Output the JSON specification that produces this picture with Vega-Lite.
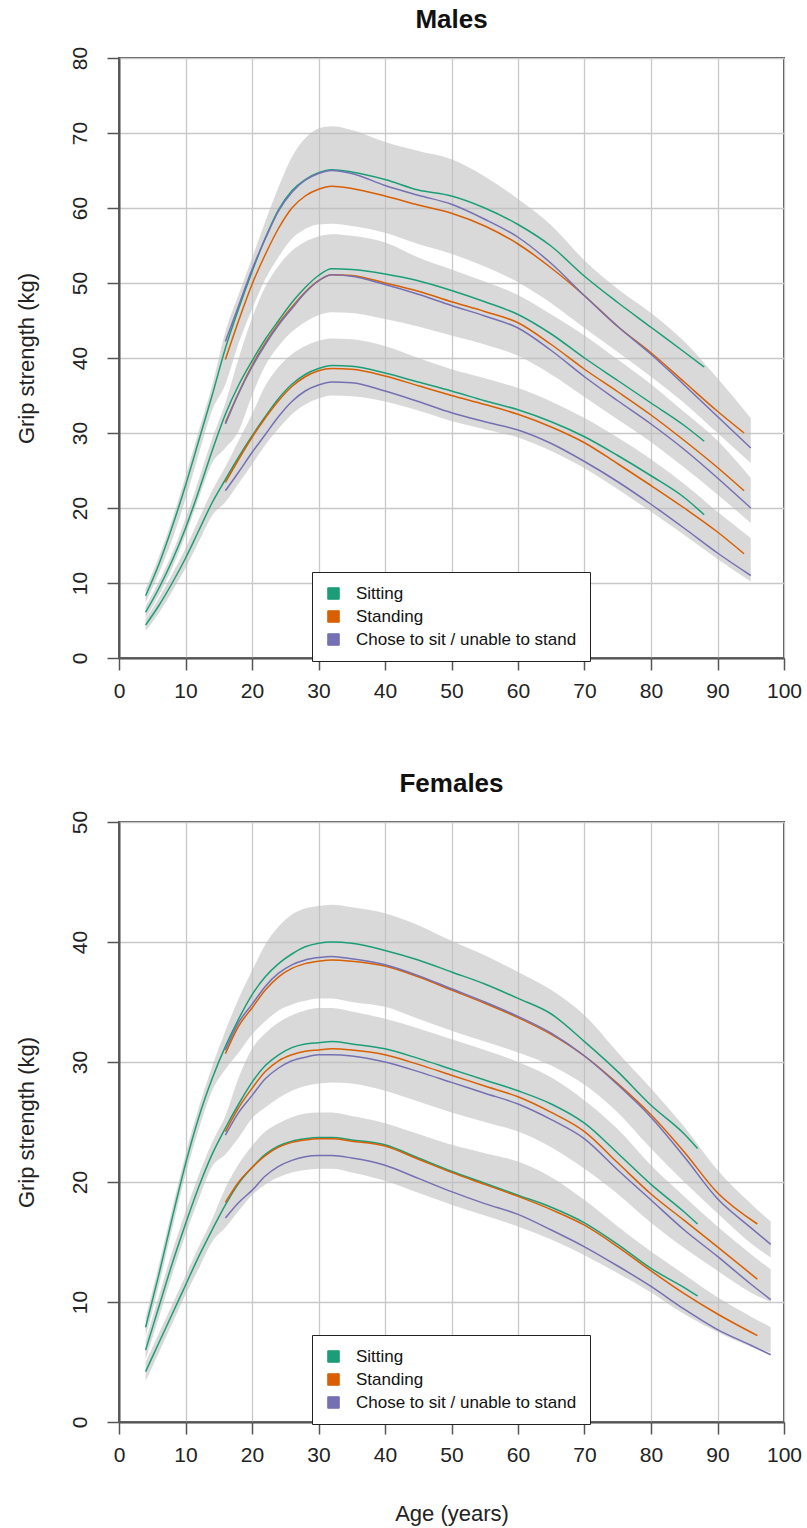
{
"$schema": "https://vega.github.io/schema/vega-lite/v6.json",
"padding": {"left": 14, "top": 6, "right": 5, "bottom": 2},
"spacing": 68,
"config": {
"font": "Liberation Sans",
"view": {"stroke": "#555555", "strokeWidth": 2},
"axis": {"domainColor": "#555555", "domainWidth": 2, "tickColor": "#555555", "tickWidth": 1.5, "tickSize": 12, "gridColor": "#c8c8c8", "gridWidth": 1.3, "labelFont": "Liberation Sans", "labelFontSize": 21, "labelColor": "#222222", "titleFont": "Liberation Sans", "titleFontSize": 22, "titleFontWeight": "normal", "titleColor": "#222222", "labelFlush": false, "labelOverlap": false},
"title": {"font": "Liberation Sans", "fontSize": 26, "fontWeight": "bold", "color": "#111111", "anchor": "middle", "baseline": "alphabetic", "offset": 13, "frame": "group"}
},
"resolve": {"scale": {"x": "independent", "y": "independent", "color": "independent"}, "legend": {"color": "independent"}},
"datasets": {
"maleBands": [
{"age":4,"lo":7.4,"hi":9.2,"band":"upper"},{"age":6,"lo":11.3,"hi":13.5,"band":"upper"},{"age":8,"lo":15.8,"hi":18.5,"band":"upper"},{"age":10,"lo":21.2,"hi":24.2,"band":"upper"},{"age":12,"lo":27.2,"hi":30.3,"band":"upper"},{"age":14,"lo":33.0,"hi":36.3,"band":"upper"},{"age":16,"lo":36.5,"hi":43.5,"band":"upper"},{"age":18,"lo":42.0,"hi":48.5,"band":"upper"},{"age":20,"lo":46.5,"hi":53.3,"band":"upper"},{"age":22,"lo":50.5,"hi":58.2,"band":"upper"},{"age":24,"lo":53.5,"hi":62.8,"band":"upper"},{"age":26,"lo":55.9,"hi":66.8,"band":"upper"},{"age":28,"lo":57.2,"hi":69.3,"band":"upper"},{"age":30,"lo":57.8,"hi":70.6,"band":"upper"},{"age":32,"lo":57.9,"hi":70.9,"band":"upper"},{"age":35,"lo":57.6,"hi":70.4,"band":"upper"},{"age":40,"lo":56.7,"hi":68.8,"band":"upper"},{"age":45,"lo":55.2,"hi":67.6,"band":"upper"},{"age":50,"lo":53.9,"hi":66.5,"band":"upper"},{"age":55,"lo":52.2,"hi":64.2,"band":"upper"},{"age":60,"lo":50.1,"hi":61.2,"band":"upper"},{"age":65,"lo":47.3,"hi":57.7,"band":"upper"},{"age":70,"lo":44.0,"hi":53.0,"band":"upper"},{"age":75,"lo":40.8,"hi":49.2,"band":"upper"},{"age":80,"lo":37.5,"hi":46.0,"band":"upper"},{"age":85,"lo":34.0,"hi":42.2,"band":"upper"},{"age":90,"lo":30.0,"hi":37.3,"band":"upper"},{"age":95,"lo":26.0,"hi":32.0,"band":"upper"},
{"age":4,"lo":5.3,"hi":6.9,"band":"middle"},{"age":6,"lo":8.4,"hi":10.2,"band":"middle"},{"age":8,"lo":12.0,"hi":14.0,"band":"middle"},{"age":10,"lo":16.4,"hi":18.6,"band":"middle"},{"age":12,"lo":21.3,"hi":23.8,"band":"middle"},{"age":14,"lo":26.0,"hi":29.2,"band":"middle"},{"age":16,"lo":28.0,"hi":34.0,"band":"middle"},{"age":18,"lo":30.3,"hi":40.0,"band":"middle"},{"age":20,"lo":35.0,"hi":45.3,"band":"middle"},{"age":22,"lo":39.0,"hi":49.5,"band":"middle"},{"age":24,"lo":41.6,"hi":52.3,"band":"middle"},{"age":26,"lo":43.5,"hi":54.3,"band":"middle"},{"age":28,"lo":44.8,"hi":55.5,"band":"middle"},{"age":30,"lo":45.7,"hi":56.2,"band":"middle"},{"age":32,"lo":46.1,"hi":56.5,"band":"middle"},{"age":35,"lo":46.0,"hi":56.3,"band":"middle"},{"age":40,"lo":45.2,"hi":55.4,"band":"middle"},{"age":45,"lo":44.2,"hi":53.4,"band":"middle"},{"age":50,"lo":43.0,"hi":51.8,"band":"middle"},{"age":55,"lo":41.8,"hi":50.2,"band":"middle"},{"age":60,"lo":40.3,"hi":48.4,"band":"middle"},{"age":65,"lo":37.8,"hi":45.8,"band":"middle"},{"age":70,"lo":34.8,"hi":43.0,"band":"middle"},{"age":75,"lo":31.8,"hi":39.8,"band":"middle"},{"age":80,"lo":28.8,"hi":36.5,"band":"middle"},{"age":85,"lo":25.4,"hi":32.8,"band":"middle"},{"age":90,"lo":21.8,"hi":29.0,"band":"middle"},{"age":95,"lo":18.0,"hi":24.0,"band":"middle"},
{"age":4,"lo":3.6,"hi":5.2,"band":"lower"},{"age":6,"lo":6.0,"hi":8.0,"band":"lower"},{"age":8,"lo":8.9,"hi":11.2,"band":"lower"},{"age":10,"lo":12.0,"hi":14.6,"band":"lower"},{"age":12,"lo":15.5,"hi":18.5,"band":"lower"},{"age":14,"lo":19.0,"hi":22.3,"band":"lower"},{"age":16,"lo":20.8,"hi":25.5,"band":"lower"},{"age":18,"lo":23.3,"hi":29.0,"band":"lower"},{"age":20,"lo":25.8,"hi":32.5,"band":"lower"},{"age":22,"lo":28.4,"hi":36.3,"band":"lower"},{"age":24,"lo":30.6,"hi":38.8,"band":"lower"},{"age":26,"lo":32.5,"hi":40.5,"band":"lower"},{"age":28,"lo":33.8,"hi":41.6,"band":"lower"},{"age":30,"lo":34.6,"hi":42.3,"band":"lower"},{"age":32,"lo":35.0,"hi":42.6,"band":"lower"},{"age":35,"lo":34.9,"hi":42.5,"band":"lower"},{"age":40,"lo":34.2,"hi":41.6,"band":"lower"},{"age":45,"lo":33.0,"hi":40.0,"band":"lower"},{"age":50,"lo":31.6,"hi":38.5,"band":"lower"},{"age":55,"lo":30.5,"hi":37.3,"band":"lower"},{"age":60,"lo":29.4,"hi":36.0,"band":"lower"},{"age":65,"lo":27.6,"hi":34.2,"band":"lower"},{"age":70,"lo":25.3,"hi":32.0,"band":"lower"},{"age":75,"lo":22.5,"hi":29.4,"band":"lower"},{"age":80,"lo":19.5,"hi":26.5,"band":"lower"},{"age":85,"lo":16.4,"hi":23.2,"band":"lower"},{"age":90,"lo":13.2,"hi":19.5,"band":"lower"},{"age":95,"lo":10.2,"hi":16.0,"band":"lower"}
],
"maleLines": [
{"age":4,"kg":8.3,"pos":"Sitting","grp":"upper"},{"age":6,"kg":12.5,"pos":"Sitting","grp":"upper"},{"age":8,"kg":17.5,"pos":"Sitting","grp":"upper"},{"age":10,"kg":23.0,"pos":"Sitting","grp":"upper"},{"age":12,"kg":29.0,"pos":"Sitting","grp":"upper"},{"age":14,"kg":35.0,"pos":"Sitting","grp":"upper"},{"age":16,"kg":41.3,"pos":"Sitting","grp":"upper"},{"age":18,"kg":46.6,"pos":"Sitting","grp":"upper"},{"age":20,"kg":51.5,"pos":"Sitting","grp":"upper"},{"age":22,"kg":56.0,"pos":"Sitting","grp":"upper"},{"age":24,"kg":59.8,"pos":"Sitting","grp":"upper"},{"age":26,"kg":62.3,"pos":"Sitting","grp":"upper"},{"age":28,"kg":63.8,"pos":"Sitting","grp":"upper"},{"age":30,"kg":64.7,"pos":"Sitting","grp":"upper"},{"age":32,"kg":65.1,"pos":"Sitting","grp":"upper"},{"age":35,"kg":64.8,"pos":"Sitting","grp":"upper"},{"age":40,"kg":63.8,"pos":"Sitting","grp":"upper"},{"age":45,"kg":62.4,"pos":"Sitting","grp":"upper"},{"age":50,"kg":61.6,"pos":"Sitting","grp":"upper"},{"age":55,"kg":60.0,"pos":"Sitting","grp":"upper"},{"age":60,"kg":57.8,"pos":"Sitting","grp":"upper"},{"age":65,"kg":54.9,"pos":"Sitting","grp":"upper"},{"age":70,"kg":50.9,"pos":"Sitting","grp":"upper"},{"age":75,"kg":47.4,"pos":"Sitting","grp":"upper"},{"age":80,"kg":44.1,"pos":"Sitting","grp":"upper"},{"age":85,"kg":40.8,"pos":"Sitting","grp":"upper"},{"age":88,"kg":38.8,"pos":"Sitting","grp":"upper"},
{"age":4,"kg":6.1,"pos":"Sitting","grp":"middle"},{"age":6,"kg":9.3,"pos":"Sitting","grp":"middle"},{"age":8,"kg":13.0,"pos":"Sitting","grp":"middle"},{"age":10,"kg":17.3,"pos":"Sitting","grp":"middle"},{"age":12,"kg":22.3,"pos":"Sitting","grp":"middle"},{"age":14,"kg":27.6,"pos":"Sitting","grp":"middle"},{"age":16,"kg":32.5,"pos":"Sitting","grp":"middle"},{"age":18,"kg":36.4,"pos":"Sitting","grp":"middle"},{"age":20,"kg":39.6,"pos":"Sitting","grp":"middle"},{"age":22,"kg":42.5,"pos":"Sitting","grp":"middle"},{"age":24,"kg":45.0,"pos":"Sitting","grp":"middle"},{"age":26,"kg":47.4,"pos":"Sitting","grp":"middle"},{"age":28,"kg":49.4,"pos":"Sitting","grp":"middle"},{"age":30,"kg":51.0,"pos":"Sitting","grp":"middle"},{"age":32,"kg":51.9,"pos":"Sitting","grp":"middle"},{"age":35,"kg":51.8,"pos":"Sitting","grp":"middle"},{"age":40,"kg":51.2,"pos":"Sitting","grp":"middle"},{"age":45,"kg":50.3,"pos":"Sitting","grp":"middle"},{"age":50,"kg":49.0,"pos":"Sitting","grp":"middle"},{"age":55,"kg":47.5,"pos":"Sitting","grp":"middle"},{"age":60,"kg":45.8,"pos":"Sitting","grp":"middle"},{"age":65,"kg":43.2,"pos":"Sitting","grp":"middle"},{"age":70,"kg":40.0,"pos":"Sitting","grp":"middle"},{"age":75,"kg":37.0,"pos":"Sitting","grp":"middle"},{"age":80,"kg":34.0,"pos":"Sitting","grp":"middle"},{"age":85,"kg":31.0,"pos":"Sitting","grp":"middle"},{"age":88,"kg":28.9,"pos":"Sitting","grp":"middle"},
{"age":4,"kg":4.4,"pos":"Sitting","grp":"lower"},{"age":6,"kg":7.0,"pos":"Sitting","grp":"lower"},{"age":8,"kg":10.0,"pos":"Sitting","grp":"lower"},{"age":10,"kg":13.3,"pos":"Sitting","grp":"lower"},{"age":12,"kg":17.0,"pos":"Sitting","grp":"lower"},{"age":14,"kg":20.7,"pos":"Sitting","grp":"lower"},{"age":16,"kg":23.8,"pos":"Sitting","grp":"lower"},{"age":18,"kg":26.8,"pos":"Sitting","grp":"lower"},{"age":20,"kg":29.6,"pos":"Sitting","grp":"lower"},{"age":22,"kg":32.2,"pos":"Sitting","grp":"lower"},{"age":24,"kg":34.6,"pos":"Sitting","grp":"lower"},{"age":26,"kg":36.5,"pos":"Sitting","grp":"lower"},{"age":28,"kg":37.8,"pos":"Sitting","grp":"lower"},{"age":30,"kg":38.6,"pos":"Sitting","grp":"lower"},{"age":32,"kg":39.0,"pos":"Sitting","grp":"lower"},{"age":35,"kg":38.9,"pos":"Sitting","grp":"lower"},{"age":40,"kg":38.0,"pos":"Sitting","grp":"lower"},{"age":45,"kg":36.8,"pos":"Sitting","grp":"lower"},{"age":50,"kg":35.6,"pos":"Sitting","grp":"lower"},{"age":55,"kg":34.3,"pos":"Sitting","grp":"lower"},{"age":60,"kg":33.1,"pos":"Sitting","grp":"lower"},{"age":65,"kg":31.5,"pos":"Sitting","grp":"lower"},{"age":70,"kg":29.5,"pos":"Sitting","grp":"lower"},{"age":75,"kg":27.0,"pos":"Sitting","grp":"lower"},{"age":80,"kg":24.3,"pos":"Sitting","grp":"lower"},{"age":85,"kg":21.4,"pos":"Sitting","grp":"lower"},{"age":88,"kg":19.1,"pos":"Sitting","grp":"lower"},
{"age":16,"kg":39.8,"pos":"Standing","grp":"upper"},{"age":18,"kg":45.0,"pos":"Standing","grp":"upper"},{"age":20,"kg":49.8,"pos":"Standing","grp":"upper"},{"age":22,"kg":53.8,"pos":"Standing","grp":"upper"},{"age":24,"kg":57.3,"pos":"Standing","grp":"upper"},{"age":26,"kg":60.0,"pos":"Standing","grp":"upper"},{"age":28,"kg":61.6,"pos":"Standing","grp":"upper"},{"age":30,"kg":62.5,"pos":"Standing","grp":"upper"},{"age":32,"kg":62.9,"pos":"Standing","grp":"upper"},{"age":35,"kg":62.6,"pos":"Standing","grp":"upper"},{"age":40,"kg":61.6,"pos":"Standing","grp":"upper"},{"age":45,"kg":60.4,"pos":"Standing","grp":"upper"},{"age":50,"kg":59.3,"pos":"Standing","grp":"upper"},{"age":55,"kg":57.6,"pos":"Standing","grp":"upper"},{"age":60,"kg":55.2,"pos":"Standing","grp":"upper"},{"age":65,"kg":52.0,"pos":"Standing","grp":"upper"},{"age":70,"kg":48.3,"pos":"Standing","grp":"upper"},{"age":75,"kg":44.2,"pos":"Standing","grp":"upper"},{"age":80,"kg":40.7,"pos":"Standing","grp":"upper"},{"age":85,"kg":36.8,"pos":"Standing","grp":"upper"},{"age":90,"kg":32.9,"pos":"Standing","grp":"upper"},{"age":94,"kg":30.0,"pos":"Standing","grp":"upper"},
{"age":16,"kg":31.4,"pos":"Standing","grp":"middle"},{"age":18,"kg":35.4,"pos":"Standing","grp":"middle"},{"age":20,"kg":39.0,"pos":"Standing","grp":"middle"},{"age":22,"kg":42.0,"pos":"Standing","grp":"middle"},{"age":24,"kg":44.6,"pos":"Standing","grp":"middle"},{"age":26,"kg":46.8,"pos":"Standing","grp":"middle"},{"age":28,"kg":48.8,"pos":"Standing","grp":"middle"},{"age":30,"kg":50.3,"pos":"Standing","grp":"middle"},{"age":32,"kg":51.1,"pos":"Standing","grp":"middle"},{"age":35,"kg":51.0,"pos":"Standing","grp":"middle"},{"age":40,"kg":50.0,"pos":"Standing","grp":"middle"},{"age":45,"kg":48.9,"pos":"Standing","grp":"middle"},{"age":50,"kg":47.5,"pos":"Standing","grp":"middle"},{"age":55,"kg":46.2,"pos":"Standing","grp":"middle"},{"age":60,"kg":44.7,"pos":"Standing","grp":"middle"},{"age":65,"kg":41.8,"pos":"Standing","grp":"middle"},{"age":70,"kg":38.5,"pos":"Standing","grp":"middle"},{"age":75,"kg":35.5,"pos":"Standing","grp":"middle"},{"age":80,"kg":32.4,"pos":"Standing","grp":"middle"},{"age":85,"kg":29.0,"pos":"Standing","grp":"middle"},{"age":90,"kg":25.4,"pos":"Standing","grp":"middle"},{"age":94,"kg":22.3,"pos":"Standing","grp":"middle"},
{"age":16,"kg":23.4,"pos":"Standing","grp":"lower"},{"age":18,"kg":26.5,"pos":"Standing","grp":"lower"},{"age":20,"kg":29.4,"pos":"Standing","grp":"lower"},{"age":22,"kg":32.0,"pos":"Standing","grp":"lower"},{"age":24,"kg":34.3,"pos":"Standing","grp":"lower"},{"age":26,"kg":36.2,"pos":"Standing","grp":"lower"},{"age":28,"kg":37.5,"pos":"Standing","grp":"lower"},{"age":30,"kg":38.3,"pos":"Standing","grp":"lower"},{"age":32,"kg":38.6,"pos":"Standing","grp":"lower"},{"age":35,"kg":38.5,"pos":"Standing","grp":"lower"},{"age":40,"kg":37.6,"pos":"Standing","grp":"lower"},{"age":45,"kg":36.3,"pos":"Standing","grp":"lower"},{"age":50,"kg":35.0,"pos":"Standing","grp":"lower"},{"age":55,"kg":33.8,"pos":"Standing","grp":"lower"},{"age":60,"kg":32.5,"pos":"Standing","grp":"lower"},{"age":65,"kg":30.8,"pos":"Standing","grp":"lower"},{"age":70,"kg":28.7,"pos":"Standing","grp":"lower"},{"age":75,"kg":25.9,"pos":"Standing","grp":"lower"},{"age":80,"kg":23.0,"pos":"Standing","grp":"lower"},{"age":85,"kg":20.0,"pos":"Standing","grp":"lower"},{"age":90,"kg":16.8,"pos":"Standing","grp":"lower"},{"age":94,"kg":13.9,"pos":"Standing","grp":"lower"},
{"age":16,"kg":42.2,"pos":"Chose to sit / unable to stand","grp":"upper"},{"age":18,"kg":47.0,"pos":"Chose to sit / unable to stand","grp":"upper"},{"age":20,"kg":51.8,"pos":"Chose to sit / unable to stand","grp":"upper"},{"age":22,"kg":55.9,"pos":"Chose to sit / unable to stand","grp":"upper"},{"age":24,"kg":59.6,"pos":"Chose to sit / unable to stand","grp":"upper"},{"age":26,"kg":62.1,"pos":"Chose to sit / unable to stand","grp":"upper"},{"age":28,"kg":63.7,"pos":"Chose to sit / unable to stand","grp":"upper"},{"age":30,"kg":64.6,"pos":"Chose to sit / unable to stand","grp":"upper"},{"age":32,"kg":65.0,"pos":"Chose to sit / unable to stand","grp":"upper"},{"age":35,"kg":64.6,"pos":"Chose to sit / unable to stand","grp":"upper"},{"age":40,"kg":63.0,"pos":"Chose to sit / unable to stand","grp":"upper"},{"age":45,"kg":61.7,"pos":"Chose to sit / unable to stand","grp":"upper"},{"age":50,"kg":60.5,"pos":"Chose to sit / unable to stand","grp":"upper"},{"age":55,"kg":58.5,"pos":"Chose to sit / unable to stand","grp":"upper"},{"age":60,"kg":56.1,"pos":"Chose to sit / unable to stand","grp":"upper"},{"age":65,"kg":52.6,"pos":"Chose to sit / unable to stand","grp":"upper"},{"age":70,"kg":48.3,"pos":"Chose to sit / unable to stand","grp":"upper"},{"age":75,"kg":44.2,"pos":"Chose to sit / unable to stand","grp":"upper"},{"age":80,"kg":40.5,"pos":"Chose to sit / unable to stand","grp":"upper"},{"age":85,"kg":36.4,"pos":"Chose to sit / unable to stand","grp":"upper"},{"age":90,"kg":32.2,"pos":"Chose to sit / unable to stand","grp":"upper"},{"age":95,"kg":28.0,"pos":"Chose to sit / unable to stand","grp":"upper"},
{"age":16,"kg":31.2,"pos":"Chose to sit / unable to stand","grp":"middle"},{"age":18,"kg":35.3,"pos":"Chose to sit / unable to stand","grp":"middle"},{"age":20,"kg":38.8,"pos":"Chose to sit / unable to stand","grp":"middle"},{"age":22,"kg":41.8,"pos":"Chose to sit / unable to stand","grp":"middle"},{"age":24,"kg":44.4,"pos":"Chose to sit / unable to stand","grp":"middle"},{"age":26,"kg":46.6,"pos":"Chose to sit / unable to stand","grp":"middle"},{"age":28,"kg":48.7,"pos":"Chose to sit / unable to stand","grp":"middle"},{"age":30,"kg":50.3,"pos":"Chose to sit / unable to stand","grp":"middle"},{"age":32,"kg":51.1,"pos":"Chose to sit / unable to stand","grp":"middle"},{"age":35,"kg":50.9,"pos":"Chose to sit / unable to stand","grp":"middle"},{"age":40,"kg":49.8,"pos":"Chose to sit / unable to stand","grp":"middle"},{"age":45,"kg":48.5,"pos":"Chose to sit / unable to stand","grp":"middle"},{"age":50,"kg":47.0,"pos":"Chose to sit / unable to stand","grp":"middle"},{"age":55,"kg":45.6,"pos":"Chose to sit / unable to stand","grp":"middle"},{"age":60,"kg":44.0,"pos":"Chose to sit / unable to stand","grp":"middle"},{"age":65,"kg":41.0,"pos":"Chose to sit / unable to stand","grp":"middle"},{"age":70,"kg":37.5,"pos":"Chose to sit / unable to stand","grp":"middle"},{"age":75,"kg":34.3,"pos":"Chose to sit / unable to stand","grp":"middle"},{"age":80,"kg":31.2,"pos":"Chose to sit / unable to stand","grp":"middle"},{"age":85,"kg":27.8,"pos":"Chose to sit / unable to stand","grp":"middle"},{"age":90,"kg":24.0,"pos":"Chose to sit / unable to stand","grp":"middle"},{"age":95,"kg":20.0,"pos":"Chose to sit / unable to stand","grp":"middle"},
{"age":16,"kg":22.3,"pos":"Chose to sit / unable to stand","grp":"lower"},{"age":18,"kg":24.8,"pos":"Chose to sit / unable to stand","grp":"lower"},{"age":20,"kg":27.4,"pos":"Chose to sit / unable to stand","grp":"lower"},{"age":22,"kg":29.8,"pos":"Chose to sit / unable to stand","grp":"lower"},{"age":24,"kg":32.2,"pos":"Chose to sit / unable to stand","grp":"lower"},{"age":26,"kg":34.2,"pos":"Chose to sit / unable to stand","grp":"lower"},{"age":28,"kg":35.6,"pos":"Chose to sit / unable to stand","grp":"lower"},{"age":30,"kg":36.4,"pos":"Chose to sit / unable to stand","grp":"lower"},{"age":32,"kg":36.8,"pos":"Chose to sit / unable to stand","grp":"lower"},{"age":35,"kg":36.7,"pos":"Chose to sit / unable to stand","grp":"lower"},{"age":40,"kg":35.6,"pos":"Chose to sit / unable to stand","grp":"lower"},{"age":45,"kg":34.2,"pos":"Chose to sit / unable to stand","grp":"lower"},{"age":50,"kg":32.7,"pos":"Chose to sit / unable to stand","grp":"lower"},{"age":55,"kg":31.5,"pos":"Chose to sit / unable to stand","grp":"lower"},{"age":60,"kg":30.4,"pos":"Chose to sit / unable to stand","grp":"lower"},{"age":65,"kg":28.6,"pos":"Chose to sit / unable to stand","grp":"lower"},{"age":70,"kg":26.2,"pos":"Chose to sit / unable to stand","grp":"lower"},{"age":75,"kg":23.5,"pos":"Chose to sit / unable to stand","grp":"lower"},{"age":80,"kg":20.5,"pos":"Chose to sit / unable to stand","grp":"lower"},{"age":85,"kg":17.3,"pos":"Chose to sit / unable to stand","grp":"lower"},{"age":90,"kg":14.0,"pos":"Chose to sit / unable to stand","grp":"lower"},{"age":95,"kg":11.0,"pos":"Chose to sit / unable to stand","grp":"lower"}
],
"femaleBands": [
{"age":4,"lo":7.1,"hi":8.7,"band":"upper"},{"age":6,"lo":11.4,"hi":13.1,"band":"upper"},{"age":8,"lo":16.1,"hi":17.8,"band":"upper"},{"age":10,"lo":20.6,"hi":22.3,"band":"upper"},{"age":12,"lo":24.4,"hi":26.2,"band":"upper"},{"age":14,"lo":27.6,"hi":29.6,"band":"upper"},{"age":16,"lo":29.4,"hi":32.6,"band":"upper"},{"age":18,"lo":30.8,"hi":35.3,"band":"upper"},{"age":20,"lo":32.3,"hi":37.6,"band":"upper"},{"age":22,"lo":33.4,"hi":39.8,"band":"upper"},{"age":24,"lo":34.3,"hi":41.3,"band":"upper"},{"age":26,"lo":34.8,"hi":42.3,"band":"upper"},{"age":28,"lo":35.1,"hi":42.8,"band":"upper"},{"age":30,"lo":35.3,"hi":43.0,"band":"upper"},{"age":32,"lo":35.3,"hi":43.1,"band":"upper"},{"age":35,"lo":35.0,"hi":42.9,"band":"upper"},{"age":40,"lo":34.6,"hi":42.4,"band":"upper"},{"age":45,"lo":33.6,"hi":41.4,"band":"upper"},{"age":50,"lo":32.6,"hi":40.1,"band":"upper"},{"age":55,"lo":31.7,"hi":38.9,"band":"upper"},{"age":60,"lo":30.8,"hi":37.5,"band":"upper"},{"age":65,"lo":29.7,"hi":36.0,"band":"upper"},{"age":70,"lo":28.1,"hi":33.9,"band":"upper"},{"age":75,"lo":25.8,"hi":30.8,"band":"upper"},{"age":80,"lo":22.8,"hi":27.8,"band":"upper"},{"age":85,"lo":20.0,"hi":24.6,"band":"upper"},{"age":90,"lo":17.4,"hi":21.0,"band":"upper"},{"age":95,"lo":14.9,"hi":18.2,"band":"upper"},{"age":98,"lo":13.7,"hi":16.7,"band":"upper"},
{"age":4,"lo":5.2,"hi":6.8,"band":"middle"},{"age":6,"lo":8.7,"hi":10.5,"band":"middle"},{"age":8,"lo":12.3,"hi":14.2,"band":"middle"},{"age":10,"lo":15.6,"hi":17.5,"band":"middle"},{"age":12,"lo":18.6,"hi":20.6,"band":"middle"},{"age":14,"lo":21.3,"hi":23.3,"band":"middle"},{"age":16,"lo":22.3,"hi":25.5,"band":"middle"},{"age":18,"lo":23.7,"hi":28.7,"band":"middle"},{"age":20,"lo":25.3,"hi":31.1,"band":"middle"},{"age":22,"lo":26.2,"hi":32.4,"band":"middle"},{"age":24,"lo":27.0,"hi":33.3,"band":"middle"},{"age":26,"lo":27.6,"hi":33.9,"band":"middle"},{"age":28,"lo":28.0,"hi":34.3,"band":"middle"},{"age":30,"lo":28.2,"hi":34.5,"band":"middle"},{"age":32,"lo":28.3,"hi":34.5,"band":"middle"},{"age":35,"lo":28.2,"hi":34.2,"band":"middle"},{"age":40,"lo":27.6,"hi":33.6,"band":"middle"},{"age":45,"lo":26.7,"hi":32.8,"band":"middle"},{"age":50,"lo":25.8,"hi":31.9,"band":"middle"},{"age":55,"lo":25.0,"hi":31.0,"band":"middle"},{"age":60,"lo":24.2,"hi":30.0,"band":"middle"},{"age":65,"lo":22.9,"hi":28.7,"band":"middle"},{"age":70,"lo":21.1,"hi":26.8,"band":"middle"},{"age":75,"lo":19.0,"hi":24.4,"band":"middle"},{"age":80,"lo":16.6,"hi":21.4,"band":"middle"},{"age":85,"lo":14.5,"hi":18.8,"band":"middle"},{"age":90,"lo":12.6,"hi":16.3,"band":"middle"},{"age":95,"lo":10.8,"hi":14.0,"band":"middle"},{"age":98,"lo":10.0,"hi":12.7,"band":"middle"},
{"age":4,"lo":3.4,"hi":5.0,"band":"lower"},{"age":6,"lo":5.8,"hi":7.4,"band":"lower"},{"age":8,"lo":8.2,"hi":9.8,"band":"lower"},{"age":10,"lo":10.6,"hi":12.2,"band":"lower"},{"age":12,"lo":12.8,"hi":14.6,"band":"lower"},{"age":14,"lo":15.0,"hi":16.9,"band":"lower"},{"age":16,"lo":16.2,"hi":19.5,"band":"lower"},{"age":18,"lo":17.6,"hi":21.5,"band":"lower"},{"age":20,"lo":18.9,"hi":23.0,"band":"lower"},{"age":22,"lo":19.8,"hi":24.2,"band":"lower"},{"age":24,"lo":20.4,"hi":24.9,"band":"lower"},{"age":26,"lo":20.8,"hi":25.4,"band":"lower"},{"age":28,"lo":21.0,"hi":25.7,"band":"lower"},{"age":30,"lo":21.1,"hi":25.8,"band":"lower"},{"age":32,"lo":21.1,"hi":25.8,"band":"lower"},{"age":35,"lo":20.8,"hi":25.5,"band":"lower"},{"age":40,"lo":20.1,"hi":24.9,"band":"lower"},{"age":45,"lo":19.1,"hi":24.0,"band":"lower"},{"age":50,"lo":18.1,"hi":23.1,"band":"lower"},{"age":55,"lo":17.2,"hi":22.4,"band":"lower"},{"age":60,"lo":16.3,"hi":21.7,"band":"lower"},{"age":65,"lo":15.2,"hi":20.4,"band":"lower"},{"age":70,"lo":13.9,"hi":18.5,"band":"lower"},{"age":75,"lo":12.4,"hi":16.3,"band":"lower"},{"age":80,"lo":10.8,"hi":14.2,"band":"lower"},{"age":85,"lo":9.0,"hi":12.3,"band":"lower"},{"age":90,"lo":7.5,"hi":10.4,"band":"lower"},{"age":95,"lo":6.3,"hi":8.8,"band":"lower"},{"age":98,"lo":5.8,"hi":7.9,"band":"lower"}
],
"femaleLines": [
{"age":4,"kg":7.9,"pos":"Sitting","grp":"upper"},{"age":6,"kg":12.3,"pos":"Sitting","grp":"upper"},{"age":8,"kg":17.0,"pos":"Sitting","grp":"upper"},{"age":10,"kg":21.5,"pos":"Sitting","grp":"upper"},{"age":12,"kg":25.4,"pos":"Sitting","grp":"upper"},{"age":14,"kg":28.6,"pos":"Sitting","grp":"upper"},{"age":16,"kg":31.3,"pos":"Sitting","grp":"upper"},{"age":18,"kg":33.6,"pos":"Sitting","grp":"upper"},{"age":20,"kg":35.6,"pos":"Sitting","grp":"upper"},{"age":22,"kg":37.1,"pos":"Sitting","grp":"upper"},{"age":24,"kg":38.2,"pos":"Sitting","grp":"upper"},{"age":26,"kg":39.0,"pos":"Sitting","grp":"upper"},{"age":28,"kg":39.6,"pos":"Sitting","grp":"upper"},{"age":30,"kg":39.9,"pos":"Sitting","grp":"upper"},{"age":32,"kg":40.0,"pos":"Sitting","grp":"upper"},{"age":35,"kg":39.9,"pos":"Sitting","grp":"upper"},{"age":40,"kg":39.3,"pos":"Sitting","grp":"upper"},{"age":45,"kg":38.5,"pos":"Sitting","grp":"upper"},{"age":50,"kg":37.5,"pos":"Sitting","grp":"upper"},{"age":55,"kg":36.5,"pos":"Sitting","grp":"upper"},{"age":60,"kg":35.3,"pos":"Sitting","grp":"upper"},{"age":65,"kg":34.0,"pos":"Sitting","grp":"upper"},{"age":70,"kg":31.7,"pos":"Sitting","grp":"upper"},{"age":75,"kg":29.2,"pos":"Sitting","grp":"upper"},{"age":80,"kg":26.4,"pos":"Sitting","grp":"upper"},{"age":85,"kg":24.0,"pos":"Sitting","grp":"upper"},{"age":87,"kg":22.8,"pos":"Sitting","grp":"upper"},
{"age":4,"kg":6.0,"pos":"Sitting","grp":"middle"},{"age":6,"kg":9.6,"pos":"Sitting","grp":"middle"},{"age":8,"kg":13.2,"pos":"Sitting","grp":"middle"},{"age":10,"kg":16.5,"pos":"Sitting","grp":"middle"},{"age":12,"kg":19.6,"pos":"Sitting","grp":"middle"},{"age":14,"kg":22.3,"pos":"Sitting","grp":"middle"},{"age":16,"kg":24.5,"pos":"Sitting","grp":"middle"},{"age":18,"kg":26.5,"pos":"Sitting","grp":"middle"},{"age":20,"kg":28.3,"pos":"Sitting","grp":"middle"},{"age":22,"kg":29.7,"pos":"Sitting","grp":"middle"},{"age":24,"kg":30.6,"pos":"Sitting","grp":"middle"},{"age":26,"kg":31.2,"pos":"Sitting","grp":"middle"},{"age":28,"kg":31.5,"pos":"Sitting","grp":"middle"},{"age":30,"kg":31.6,"pos":"Sitting","grp":"middle"},{"age":32,"kg":31.7,"pos":"Sitting","grp":"middle"},{"age":35,"kg":31.5,"pos":"Sitting","grp":"middle"},{"age":40,"kg":31.1,"pos":"Sitting","grp":"middle"},{"age":45,"kg":30.3,"pos":"Sitting","grp":"middle"},{"age":50,"kg":29.4,"pos":"Sitting","grp":"middle"},{"age":55,"kg":28.5,"pos":"Sitting","grp":"middle"},{"age":60,"kg":27.6,"pos":"Sitting","grp":"middle"},{"age":65,"kg":26.5,"pos":"Sitting","grp":"middle"},{"age":70,"kg":24.9,"pos":"Sitting","grp":"middle"},{"age":75,"kg":22.4,"pos":"Sitting","grp":"middle"},{"age":80,"kg":19.8,"pos":"Sitting","grp":"middle"},{"age":85,"kg":17.5,"pos":"Sitting","grp":"middle"},{"age":87,"kg":16.5,"pos":"Sitting","grp":"middle"},
{"age":4,"kg":4.2,"pos":"Sitting","grp":"lower"},{"age":6,"kg":6.6,"pos":"Sitting","grp":"lower"},{"age":8,"kg":9.0,"pos":"Sitting","grp":"lower"},{"age":10,"kg":11.4,"pos":"Sitting","grp":"lower"},{"age":12,"kg":13.8,"pos":"Sitting","grp":"lower"},{"age":14,"kg":16.0,"pos":"Sitting","grp":"lower"},{"age":16,"kg":18.1,"pos":"Sitting","grp":"lower"},{"age":18,"kg":19.9,"pos":"Sitting","grp":"lower"},{"age":20,"kg":21.2,"pos":"Sitting","grp":"lower"},{"age":22,"kg":22.3,"pos":"Sitting","grp":"lower"},{"age":24,"kg":23.0,"pos":"Sitting","grp":"lower"},{"age":26,"kg":23.4,"pos":"Sitting","grp":"lower"},{"age":28,"kg":23.6,"pos":"Sitting","grp":"lower"},{"age":30,"kg":23.7,"pos":"Sitting","grp":"lower"},{"age":32,"kg":23.7,"pos":"Sitting","grp":"lower"},{"age":35,"kg":23.5,"pos":"Sitting","grp":"lower"},{"age":40,"kg":23.1,"pos":"Sitting","grp":"lower"},{"age":45,"kg":22.0,"pos":"Sitting","grp":"lower"},{"age":50,"kg":20.9,"pos":"Sitting","grp":"lower"},{"age":55,"kg":19.9,"pos":"Sitting","grp":"lower"},{"age":60,"kg":18.9,"pos":"Sitting","grp":"lower"},{"age":65,"kg":17.9,"pos":"Sitting","grp":"lower"},{"age":70,"kg":16.6,"pos":"Sitting","grp":"lower"},{"age":75,"kg":14.8,"pos":"Sitting","grp":"lower"},{"age":80,"kg":12.8,"pos":"Sitting","grp":"lower"},{"age":85,"kg":11.2,"pos":"Sitting","grp":"lower"},{"age":87,"kg":10.5,"pos":"Sitting","grp":"lower"},
{"age":16,"kg":30.7,"pos":"Standing","grp":"upper"},{"age":18,"kg":33.0,"pos":"Standing","grp":"upper"},{"age":20,"kg":34.5,"pos":"Standing","grp":"upper"},{"age":22,"kg":36.0,"pos":"Standing","grp":"upper"},{"age":24,"kg":37.1,"pos":"Standing","grp":"upper"},{"age":26,"kg":37.8,"pos":"Standing","grp":"upper"},{"age":28,"kg":38.2,"pos":"Standing","grp":"upper"},{"age":30,"kg":38.4,"pos":"Standing","grp":"upper"},{"age":32,"kg":38.5,"pos":"Standing","grp":"upper"},{"age":35,"kg":38.4,"pos":"Standing","grp":"upper"},{"age":40,"kg":38.0,"pos":"Standing","grp":"upper"},{"age":45,"kg":37.1,"pos":"Standing","grp":"upper"},{"age":50,"kg":36.0,"pos":"Standing","grp":"upper"},{"age":55,"kg":34.9,"pos":"Standing","grp":"upper"},{"age":60,"kg":33.7,"pos":"Standing","grp":"upper"},{"age":65,"kg":32.3,"pos":"Standing","grp":"upper"},{"age":70,"kg":30.5,"pos":"Standing","grp":"upper"},{"age":75,"kg":28.2,"pos":"Standing","grp":"upper"},{"age":80,"kg":25.6,"pos":"Standing","grp":"upper"},{"age":85,"kg":22.5,"pos":"Standing","grp":"upper"},{"age":90,"kg":19.1,"pos":"Standing","grp":"upper"},{"age":96,"kg":16.5,"pos":"Standing","grp":"upper"},
{"age":16,"kg":24.2,"pos":"Standing","grp":"middle"},{"age":18,"kg":26.2,"pos":"Standing","grp":"middle"},{"age":20,"kg":27.8,"pos":"Standing","grp":"middle"},{"age":22,"kg":29.2,"pos":"Standing","grp":"middle"},{"age":24,"kg":30.1,"pos":"Standing","grp":"middle"},{"age":26,"kg":30.6,"pos":"Standing","grp":"middle"},{"age":28,"kg":30.9,"pos":"Standing","grp":"middle"},{"age":30,"kg":31.0,"pos":"Standing","grp":"middle"},{"age":32,"kg":31.1,"pos":"Standing","grp":"middle"},{"age":35,"kg":31.0,"pos":"Standing","grp":"middle"},{"age":40,"kg":30.6,"pos":"Standing","grp":"middle"},{"age":45,"kg":29.8,"pos":"Standing","grp":"middle"},{"age":50,"kg":28.9,"pos":"Standing","grp":"middle"},{"age":55,"kg":28.0,"pos":"Standing","grp":"middle"},{"age":60,"kg":27.1,"pos":"Standing","grp":"middle"},{"age":65,"kg":25.8,"pos":"Standing","grp":"middle"},{"age":70,"kg":24.2,"pos":"Standing","grp":"middle"},{"age":75,"kg":21.6,"pos":"Standing","grp":"middle"},{"age":80,"kg":19.0,"pos":"Standing","grp":"middle"},{"age":85,"kg":16.8,"pos":"Standing","grp":"middle"},{"age":90,"kg":14.6,"pos":"Standing","grp":"middle"},{"age":96,"kg":11.9,"pos":"Standing","grp":"middle"},
{"age":16,"kg":18.3,"pos":"Standing","grp":"lower"},{"age":18,"kg":20.0,"pos":"Standing","grp":"lower"},{"age":20,"kg":21.2,"pos":"Standing","grp":"lower"},{"age":22,"kg":22.2,"pos":"Standing","grp":"lower"},{"age":24,"kg":22.9,"pos":"Standing","grp":"lower"},{"age":26,"kg":23.3,"pos":"Standing","grp":"lower"},{"age":28,"kg":23.5,"pos":"Standing","grp":"lower"},{"age":30,"kg":23.6,"pos":"Standing","grp":"lower"},{"age":32,"kg":23.6,"pos":"Standing","grp":"lower"},{"age":35,"kg":23.4,"pos":"Standing","grp":"lower"},{"age":40,"kg":23.0,"pos":"Standing","grp":"lower"},{"age":45,"kg":21.9,"pos":"Standing","grp":"lower"},{"age":50,"kg":20.8,"pos":"Standing","grp":"lower"},{"age":55,"kg":19.8,"pos":"Standing","grp":"lower"},{"age":60,"kg":18.8,"pos":"Standing","grp":"lower"},{"age":65,"kg":17.7,"pos":"Standing","grp":"lower"},{"age":70,"kg":16.4,"pos":"Standing","grp":"lower"},{"age":75,"kg":14.6,"pos":"Standing","grp":"lower"},{"age":80,"kg":12.6,"pos":"Standing","grp":"lower"},{"age":85,"kg":10.7,"pos":"Standing","grp":"lower"},{"age":90,"kg":9.0,"pos":"Standing","grp":"lower"},{"age":96,"kg":7.2,"pos":"Standing","grp":"lower"},
{"age":16,"kg":31.0,"pos":"Chose to sit / unable to stand","grp":"upper"},{"age":18,"kg":33.3,"pos":"Chose to sit / unable to stand","grp":"upper"},{"age":20,"kg":34.8,"pos":"Chose to sit / unable to stand","grp":"upper"},{"age":22,"kg":36.3,"pos":"Chose to sit / unable to stand","grp":"upper"},{"age":24,"kg":37.4,"pos":"Chose to sit / unable to stand","grp":"upper"},{"age":26,"kg":38.1,"pos":"Chose to sit / unable to stand","grp":"upper"},{"age":28,"kg":38.5,"pos":"Chose to sit / unable to stand","grp":"upper"},{"age":30,"kg":38.7,"pos":"Chose to sit / unable to stand","grp":"upper"},{"age":32,"kg":38.8,"pos":"Chose to sit / unable to stand","grp":"upper"},{"age":35,"kg":38.6,"pos":"Chose to sit / unable to stand","grp":"upper"},{"age":40,"kg":38.1,"pos":"Chose to sit / unable to stand","grp":"upper"},{"age":45,"kg":37.2,"pos":"Chose to sit / unable to stand","grp":"upper"},{"age":50,"kg":36.1,"pos":"Chose to sit / unable to stand","grp":"upper"},{"age":55,"kg":35.0,"pos":"Chose to sit / unable to stand","grp":"upper"},{"age":60,"kg":33.8,"pos":"Chose to sit / unable to stand","grp":"upper"},{"age":65,"kg":32.4,"pos":"Chose to sit / unable to stand","grp":"upper"},{"age":70,"kg":30.5,"pos":"Chose to sit / unable to stand","grp":"upper"},{"age":75,"kg":28.1,"pos":"Chose to sit / unable to stand","grp":"upper"},{"age":80,"kg":25.4,"pos":"Chose to sit / unable to stand","grp":"upper"},{"age":85,"kg":22.1,"pos":"Chose to sit / unable to stand","grp":"upper"},{"age":90,"kg":18.6,"pos":"Chose to sit / unable to stand","grp":"upper"},{"age":95,"kg":16.2,"pos":"Chose to sit / unable to stand","grp":"upper"},{"age":98,"kg":14.8,"pos":"Chose to sit / unable to stand","grp":"upper"},
{"age":16,"kg":23.9,"pos":"Chose to sit / unable to stand","grp":"middle"},{"age":18,"kg":25.8,"pos":"Chose to sit / unable to stand","grp":"middle"},{"age":20,"kg":27.2,"pos":"Chose to sit / unable to stand","grp":"middle"},{"age":22,"kg":28.6,"pos":"Chose to sit / unable to stand","grp":"middle"},{"age":24,"kg":29.5,"pos":"Chose to sit / unable to stand","grp":"middle"},{"age":26,"kg":30.1,"pos":"Chose to sit / unable to stand","grp":"middle"},{"age":28,"kg":30.4,"pos":"Chose to sit / unable to stand","grp":"middle"},{"age":30,"kg":30.6,"pos":"Chose to sit / unable to stand","grp":"middle"},{"age":32,"kg":30.6,"pos":"Chose to sit / unable to stand","grp":"middle"},{"age":35,"kg":30.5,"pos":"Chose to sit / unable to stand","grp":"middle"},{"age":40,"kg":30.0,"pos":"Chose to sit / unable to stand","grp":"middle"},{"age":45,"kg":29.2,"pos":"Chose to sit / unable to stand","grp":"middle"},{"age":50,"kg":28.3,"pos":"Chose to sit / unable to stand","grp":"middle"},{"age":55,"kg":27.4,"pos":"Chose to sit / unable to stand","grp":"middle"},{"age":60,"kg":26.5,"pos":"Chose to sit / unable to stand","grp":"middle"},{"age":65,"kg":25.2,"pos":"Chose to sit / unable to stand","grp":"middle"},{"age":70,"kg":23.6,"pos":"Chose to sit / unable to stand","grp":"middle"},{"age":75,"kg":21.0,"pos":"Chose to sit / unable to stand","grp":"middle"},{"age":80,"kg":18.5,"pos":"Chose to sit / unable to stand","grp":"middle"},{"age":85,"kg":16.0,"pos":"Chose to sit / unable to stand","grp":"middle"},{"age":90,"kg":13.8,"pos":"Chose to sit / unable to stand","grp":"middle"},{"age":95,"kg":11.5,"pos":"Chose to sit / unable to stand","grp":"middle"},{"age":98,"kg":10.2,"pos":"Chose to sit / unable to stand","grp":"middle"},
{"age":16,"kg":17.0,"pos":"Chose to sit / unable to stand","grp":"lower"},{"age":18,"kg":18.3,"pos":"Chose to sit / unable to stand","grp":"lower"},{"age":20,"kg":19.3,"pos":"Chose to sit / unable to stand","grp":"lower"},{"age":22,"kg":20.5,"pos":"Chose to sit / unable to stand","grp":"lower"},{"age":24,"kg":21.3,"pos":"Chose to sit / unable to stand","grp":"lower"},{"age":26,"kg":21.8,"pos":"Chose to sit / unable to stand","grp":"lower"},{"age":28,"kg":22.1,"pos":"Chose to sit / unable to stand","grp":"lower"},{"age":30,"kg":22.2,"pos":"Chose to sit / unable to stand","grp":"lower"},{"age":32,"kg":22.2,"pos":"Chose to sit / unable to stand","grp":"lower"},{"age":35,"kg":22.0,"pos":"Chose to sit / unable to stand","grp":"lower"},{"age":40,"kg":21.4,"pos":"Chose to sit / unable to stand","grp":"lower"},{"age":45,"kg":20.3,"pos":"Chose to sit / unable to stand","grp":"lower"},{"age":50,"kg":19.2,"pos":"Chose to sit / unable to stand","grp":"lower"},{"age":55,"kg":18.2,"pos":"Chose to sit / unable to stand","grp":"lower"},{"age":60,"kg":17.3,"pos":"Chose to sit / unable to stand","grp":"lower"},{"age":65,"kg":16.0,"pos":"Chose to sit / unable to stand","grp":"lower"},{"age":70,"kg":14.6,"pos":"Chose to sit / unable to stand","grp":"lower"},{"age":75,"kg":13.0,"pos":"Chose to sit / unable to stand","grp":"lower"},{"age":80,"kg":11.3,"pos":"Chose to sit / unable to stand","grp":"lower"},{"age":85,"kg":9.4,"pos":"Chose to sit / unable to stand","grp":"lower"},{"age":90,"kg":7.7,"pos":"Chose to sit / unable to stand","grp":"lower"},{"age":95,"kg":6.4,"pos":"Chose to sit / unable to stand","grp":"lower"},{"age":98,"kg":5.6,"pos":"Chose to sit / unable to stand","grp":"lower"}
]
},
"vconcat": [
{
"title": "Males",
"width": 665,
"height": 600,
"layer": [
{"data": {"name": "maleBands"},
"mark": {"type": "area", "interpolate": "monotone", "fill": "#bfbfbf", "fillOpacity": 0.59},
"encoding": {
"x": {"field": "age", "type": "quantitative", "title": null, "scale": {"domain": [0, 100], "nice": false, "zero": false}, "axis": {"values": [0,10,20,30,40,50,60,70,80,90,100], "labelPadding": 10}},
"y": {"field": "lo", "type": "quantitative", "title": "Grip strength (kg)", "scale": {"domain": [0, 80], "nice": false}, "axis": {"values": [0,10,20,30,40,50,60,70,80], "labelAngle": -90, "labelAlign": "center", "labelBaseline": "alphabetic", "labelPadding": 21, "titleX": -93, "titleY": 300, "titleAngle": -90, "titleAlign": "center", "titleBaseline": "middle"}},
"y2": {"field": "hi"},
"detail": {"field": "band"}
}},
{"data": {"name": "maleLines"},
"mark": {"type": "line", "interpolate": "monotone", "strokeWidth": 1.5},
"encoding": {
"x": {"field": "age", "type": "quantitative", "title": null},
"y": {"field": "kg", "type": "quantitative", "title": "Grip strength (kg)"},
"detail": {"field": "grp"},
"color": {"field": "pos", "type": "nominal", "scale": {"domain": ["Sitting", "Standing", "Chose to sit / unable to stand"], "range": ["#1b9e77", "#d95f02", "#7570b3"]},
"legend": {"title": null, "orient": "none", "legendX": 193, "legendY": 514, "direction": "vertical", "symbolType": "square", "symbolSize": 132, "labelFontSize": 17, "labelFont": "Liberation Sans", "labelColor": "#111111", "labelOffset": 14, "labelLimit": 400, "rowPadding": 5, "padding": 13, "strokeColor": "#222222", "fillColor": "white",
"encode": {"symbols": {"update": {"fill": {"signal": "datum.value === 'Sitting' ? '#1b9e77' : datum.value === 'Standing' ? '#d95f02' : '#7570b3'"}, "fillOpacity": {"value": 1}, "stroke": {"value": "#222222"}, "strokeWidth": {"value": 1}}}}}}
}}
]
},
{
"title": "Females",
"width": 665,
"height": 600,
"layer": [
{"data": {"name": "femaleBands"},
"mark": {"type": "area", "interpolate": "monotone", "fill": "#bfbfbf", "fillOpacity": 0.59},
"encoding": {
"x": {"field": "age", "type": "quantitative", "title": "Age (years)", "scale": {"domain": [0, 100], "nice": false, "zero": false}, "axis": {"values": [0,10,20,30,40,50,60,70,80,90,100], "labelPadding": 10, "titlePadding": 38}},
"y": {"field": "lo", "type": "quantitative", "title": "Grip strength (kg)", "scale": {"domain": [0, 50], "nice": false}, "axis": {"values": [0,10,20,30,40,50], "labelAngle": -90, "labelAlign": "center", "labelBaseline": "alphabetic", "labelPadding": 21, "titleX": -93, "titleY": 300, "titleAngle": -90, "titleAlign": "center", "titleBaseline": "middle"}},
"y2": {"field": "hi"},
"detail": {"field": "band"}
}},
{"data": {"name": "femaleLines"},
"mark": {"type": "line", "interpolate": "monotone", "strokeWidth": 1.5},
"encoding": {
"x": {"field": "age", "type": "quantitative", "title": "Age (years)"},
"y": {"field": "kg", "type": "quantitative", "title": "Grip strength (kg)"},
"detail": {"field": "grp"},
"color": {"field": "pos", "type": "nominal", "scale": {"domain": ["Sitting", "Standing", "Chose to sit / unable to stand"], "range": ["#1b9e77", "#d95f02", "#7570b3"]},
"legend": {"title": null, "orient": "none", "legendX": 193, "legendY": 513, "direction": "vertical", "symbolType": "square", "symbolSize": 132, "labelFontSize": 17, "labelFont": "Liberation Sans", "labelColor": "#111111", "labelOffset": 14, "labelLimit": 400, "rowPadding": 5, "padding": 13, "strokeColor": "#222222", "fillColor": "white",
"encode": {"symbols": {"update": {"fill": {"signal": "datum.value === 'Sitting' ? '#1b9e77' : datum.value === 'Standing' ? '#d95f02' : '#7570b3'"}, "fillOpacity": {"value": 1}, "stroke": {"value": "#222222"}, "strokeWidth": {"value": 1}}}}}}
}}
]
}
]
}
